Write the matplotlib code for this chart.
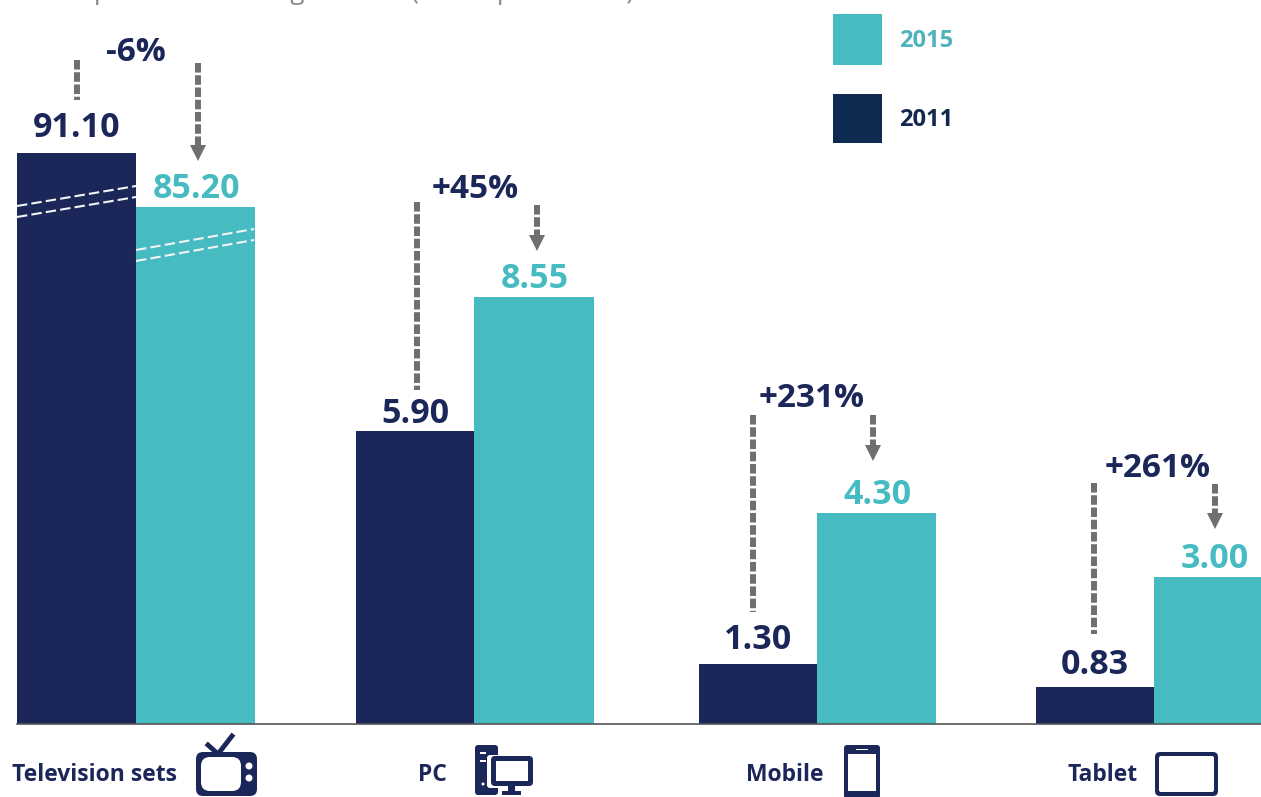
import matplotlib
matplotlib.use('Agg')
import matplotlib.pyplot as plt
from matplotlib.patches import Rectangle, FancyBboxPatch, Circle, Polygon

categories = ['Television sets', 'PC', 'Mobile', 'Tablet']
labels_2011 = ['91.10', '5.90', '1.30', '0.83']
labels_2015 = ['85.20', '8.55', '4.30', '3.00']
# bar heights as drawn in the picture, the scale is broken for television
heights_2011 = [571, 293, 60, 37]
heights_2015 = [517, 427, 211, 147]
changes = ['-6%', '+45%', '+231%', '+261%']

NAVY = '#1c2759'
TEAL = '#47bbc2'
GREY = '#6f6f6f'
FONT = ['Open Sans', 'DejaVu Sans']

BASE = 724
left_2011 = [17, 356, 699, 1036]
left_2015 = [136, 474, 817, 1154]
bar_w = [119, 118, 118, 118]
bar_w2 = [119, 120, 119, 120]
gap_2011 = [8, 0, 7, 5]
gap_2015 = [1, 1, 1, 1]


def py(y):
    return BASE - y


def box(ax, x, y, w, h, r, **kw):
    ax.add_patch(FancyBboxPatch((x + r, y + r), w - 2*r, h - 2*r,
                                boxstyle='round,pad=%f,rounding_size=%f' % (r, r), **kw))


def dashed(ax, x, y0, y1, lw=4.3):
    ax.plot([x, x], [y0, y1], color=GREY, lw=lw, ls=(0, (1.6, 0.45)), dash_capstyle='butt')


def arrow(ax, x, y0, y1):
    dashed(ax, x, y0, y1 + 14)
    ax.add_patch(Polygon([(x - 8, y1 + 16), (x + 8, y1 + 16), (x, y1)], color=GREY, lw=0))


def icons(ax):
    # tv
    ax.plot([232, 218, 208], [py(736), py(754), py(745)], color=NAVY, lw=3.5)
    box(ax, 196, py(796), 61, 44, 7, fc=NAVY, ec='none')
    box(ax, 201, py(791), 40, 34, 9, fc='white', ec='none')
    ax.add_patch(Circle((249, py(766)), 3.5, fc='white', ec='none'))
    ax.add_patch(Circle((249, py(778)), 3.5, fc='white', ec='none'))
    # pc
    box(ax, 475, py(795), 23, 50, 3, fc=NAVY, ec='none')
    ax.add_patch(Rectangle((480, py(754)), 6, 2, fc='white', ec='none'))
    ax.add_patch(Rectangle((480, py(762)), 6, 2, fc='white', ec='none'))
    ax.add_patch(Circle((483, py(784)), 1.5, fc='white', ec='none'))
    box(ax, 487, py(788), 47, 33, 3, fc='white', ec='none')
    box(ax, 491, py(786), 42, 30, 4, fc=NAVY, ec='none')
    ax.add_patch(Rectangle((496, py(781)), 32, 20, fc='white', ec='none'))
    ax.add_patch(Rectangle((508, py(791)), 7, 6, fc=NAVY, ec='none'))
    ax.add_patch(Rectangle((502, py(795)), 19, 4, fc=NAVY, ec='none'))
    # mobile
    box(ax, 844, py(799), 36, 54, 3, fc=NAVY, ec='none')
    ax.add_patch(Rectangle((848, py(791)), 28, 37, fc='white', ec='none'))
    ax.add_patch(Rectangle((856, py(750)), 12, 1.5, fc='white', ec='none'))
    # tablet
    box(ax, 1155, py(796), 63, 44, 5, fc=NAVY, ec='none')
    box(ax, 1159, py(792), 55, 36, 2, fc='white', ec='none')


fig = plt.figure(figsize=(12.61, 7.97), dpi=100)
ax = fig.add_axes([0, 0, 1, 1])
ax.set_xlim(0, 1261)
ax.set_ylim(BASE - 797, BASE)
ax.axis('off')

# only the bottom edge of the title is left in the picture
ax.text(15, py(-1), 'Time spent on watching content (hours per month)', color='#8a8a8a',
        fontsize=18.8, family=FONT, va='baseline')

ax.bar(left_2011, heights_2011, bar_w, align='edge', color=NAVY, lw=0)
ax.bar(left_2015, heights_2015, bar_w2, align='edge', color=TEAL, lw=0)
ax.plot([17, 1261], [0, 0], color='#555555', lw=1.2)

# break marks on the television bars
for dy in (0, 11):
    ax.plot([17, 136], [py(206 + dy), py(186 + dy)], color='#f2f4f8', lw=1.5, ls=(0, (5, 2)))
    ax.plot([136, 254], [py(250 + dy), py(229 + dy)], color='#f2f4f8', lw=1.5, ls=(0, (5, 2)))

for i in range(4):
    xa = left_2011[i] + bar_w[i]/2
    xb = left_2015[i] + bar_w2[i]/2 + 1
    ax.text(xa, heights_2011[i] + gap_2011[i], labels_2011[i], color=NAVY, fontsize=24.5,
            fontweight='bold', family=FONT, ha='center', va='bottom')
    ax.text(xb, heights_2015[i] + gap_2015[i], labels_2015[i], color=TEAL, fontsize=24.5,
            fontweight='bold', family=FONT, ha='center', va='bottom')

change_x = [136, 475, 812, 1158]
change_y = [52, 189, 398, 468]
for i in range(4):
    ax.text(change_x[i], py(change_y[i]), changes[i], color=NAVY, fontsize=24, fontweight='bold',
            family=FONT, ha='center', va='center')

dashed(ax, 77, py(60), py(100))
dashed(ax, 417, py(202), py(390))
dashed(ax, 753, py(415), py(612))
dashed(ax, 1094, py(483), py(634))
arrow(ax, 198, py(63), py(161))
arrow(ax, 537, py(205), py(251))
arrow(ax, 873, py(415), py(461))
arrow(ax, 1215, py(484), py(529))

cat_x = [94, 432, 785, 1103]
for i in range(4):
    ax.text(cat_x[i], py(775), categories[i], color=NAVY, fontsize=16.5, fontweight='bold',
            family=FONT, ha='center', va='center')
icons(ax)

ax.add_patch(Rectangle((833, py(65)), 49, 51, fc=TEAL, ec='none'))
ax.add_patch(Rectangle((833, py(143)), 49, 49, fc='#0f2a50', ec='none'))
ax.text(899, py(41), '2015', color='#4fb3bb', fontsize=17, fontweight='bold', family=FONT, va='center')
ax.text(899, py(120), '2011', color='#14284f', fontsize=17, fontweight='bold', family=FONT, va='center')

fig.savefig('out.png', dpi=100)
